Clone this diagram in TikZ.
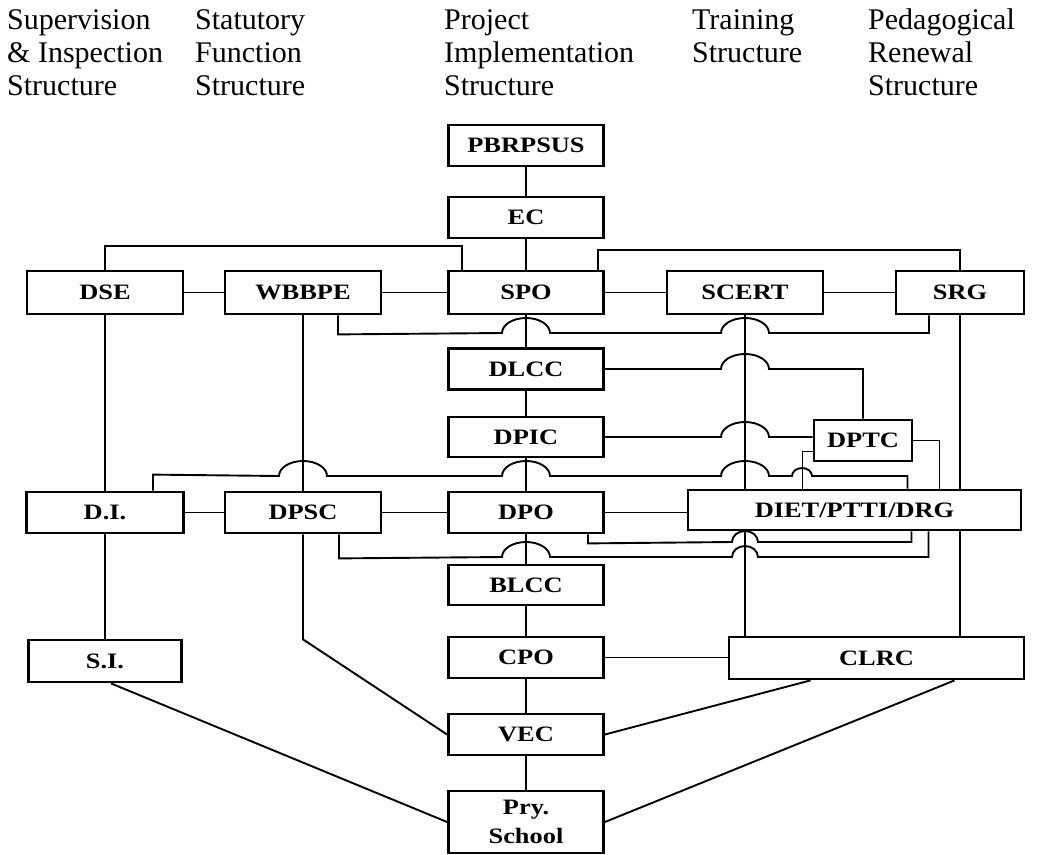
\documentclass[tikz,border=0pt]{standalone}
\usepackage{fontspec}
\setmainfont{Liberation Serif}
\newfontfamily\boxfont[FakeStretch=1.2]{Liberation Serif}
% line hopping over a vertical line at x=#1, level y=#2
\newcommand\jumpover[2]{-- (#1-24,#2) arc[start angle=180,end angle=0,x radius=24pt,y radius=15pt]}
\newcommand\lowjump[2]{-- (#1-13,#2) arc[start angle=180,end angle=0,x radius=13pt,y radius=11pt]}
\newcommand\smalljump[2]{-- (#1-10,#2) arc[start angle=180,end angle=0,x radius=10pt,y radius=8pt]}
\begin{document}
\begin{tikzpicture}[x=1pt,y=-1pt,line cap=butt,line join=miter]
	\tikzset{box/.style={draw,line width=2.8pt,inner sep=0pt,minimum width=155pt,minimum height=41pt,
			font=\fontsize{22}{29}\boxfont\bfseries},
		link/.style={line width=1.9pt},
		head/.style={anchor=north west,inner sep=0pt,align=left,font=\fontsize{30}{33}\selectfont}}
	\useasboundingbox (0,0) rectangle (1038,854);
	% headings
	\node[head] (hsup) at (7,6) {\strut Supervision\\\strut\& Inspection\\\strut Structure};
	\node[head] (hstat) at (195,6) {\strut Statutory\\\strut Function\\\strut Structure};
	\node[head] (hproj) at (444,6) {\strut Project\\\strut Implementation\\\strut Structure};
	\node[head] (htrain) at (692,6) {\strut Training\\\strut Structure};
	\node[head] (hped) at (868,6) {\strut Pedagogical\\\strut Renewal\\\strut Structure};
	% boxes
	\node[box] (pbrpsus) at (526,145.5) {PBRPSUS};
	\node[box] (ec) at (526,217.5) {EC};
	\node[box,minimum width=156pt,minimum height=43pt] (dse) at (105,292.5) {DSE};
	\node[box,minimum width=156pt,minimum height=43pt] (wbbpe) at (303,292.5) {WBBPE};
	\node[box,minimum height=43pt] (spo) at (526,292.5) {SPO};
	\node[box,minimum width=156pt,minimum height=43pt] (scert) at (745,292.5) {SCERT};
	\node[box,minimum width=128pt,minimum height=43pt] (srg) at (960,292.5) {SRG};
	\node[box] (dlcc) at (526,369) {DLCC};
	\node[box,minimum height=40pt] (dpic) at (526,437) {DPIC};
	\node[box,minimum width=98pt] (dptc) at (863,440.5) {DPTC};
	\node[box,minimum width=157pt] (di) at (105,512.5) {D.I.};
	\node[box,minimum width=156pt] (dpsc) at (303,512.5) {DPSC};
	\node[box] (dpo) at (526,512.5) {DPO};
	\node[box,minimum width=333pt,minimum height=40pt] (diet) at (854.5,510) {DIET/PTTI/DRG};
	\node[box,minimum height=40pt] (blcc) at (526,585) {BLCC};
	\node[box,minimum width=153pt,minimum height=42pt] (si) at (105,661) {S.I.};
	\node[box] (cpo) at (526,657.5) {CPO};
	\node[box,minimum width=295pt,minimum height=42pt] (clrc) at (876.5,658) {CLRC};
	\node[box] (vec) at (526,734.5) {VEC};
	\node[box,minimum height=62pt,align=center] (pry) at (526,822) {Pry.\\School};
	% straight links
	\draw[link] (pbrpsus)--(ec) (ec)--(spo) (spo)--(dlcc) (dlcc)--(dpic) (dpic)--(dpo)
		(dpo)--(blcc) (blcc)--(cpo) (cpo)--(vec) (vec)--(pry);
	\draw[link] (dse)--(wbbpe) (wbbpe)--(spo) (spo)--(scert) (scert)--(srg);
	\draw[link] (di)--(dpsc) (dpsc)--(dpo) (dpo.east)--(dpo.east -| diet.west);
	\draw[link] (cpo.east)--(cpo.east -| clrc.west);
	\draw[link] (dse)--(di) (di)--(si) (wbbpe)--(dpsc);
	\draw[link] (scert.south)--(scert.south |- diet.north) (scert.south |- diet.south)--(scert.south |- clrc.north);
	\draw[link] (srg.south)--(srg.south |- diet.north) (srg.south |- diet.south)--(srg.south |- clrc.north);
	% bent links
	\draw[link] (dse.north) -- ++(0,-24) -| ([xshift=-64pt]spo.north);
	\draw[link] ([xshift=72pt]spo.north) -- ++(0,-20) -| (srg.north);
	\draw[link] ([xshift=35pt]wbbpe.south) -- ++(0,19) \jumpover{526}{333} \jumpover{745}{333} -| ([xshift=-31pt]srg.south);
	\draw[link] (dlcc.east) \jumpover{745}{369} -| (dptc.north);
	\draw[link] (dpic.east) \jumpover{745}{437} -- (dpic.east -| dptc.west);
	\draw[link] (dptc.east) -| ([xshift=85pt]diet.north);
	\draw[link] ([yshift=-11pt]dptc.west) -| ([xshift=-52pt]diet.north);
	\draw[link] ([xshift=48pt]di.north) -- ++(0,-16) \jumpover{303}{476} \jumpover{526}{476} \jumpover{745}{476}
		\smalljump{802}{476} -| ([xshift=53pt]diet.north);
	\draw[link] ([xshift=62pt]dpo.south) -- ++(0,9) \lowjump{745}{542} -| ([xshift=57pt]diet.south);
	\draw[link] ([xshift=36pt]dpsc.south) -- ++(0,24) \jumpover{526}{557} \lowjump{745}{557} -| ([xshift=74pt]diet.south);
	% links to the bottom
	\draw[link] (dpsc.south) -- ++(0,105) -- (vec.west);
	\draw[link] ([xshift=6pt]si.south) -- (pry.west);
	\draw[link] ([xshift=-66pt]clrc.south) -- (vec.east);
	\draw[link] ([xshift=78pt]clrc.south) -- (pry.east);
\end{tikzpicture}
\end{document}
